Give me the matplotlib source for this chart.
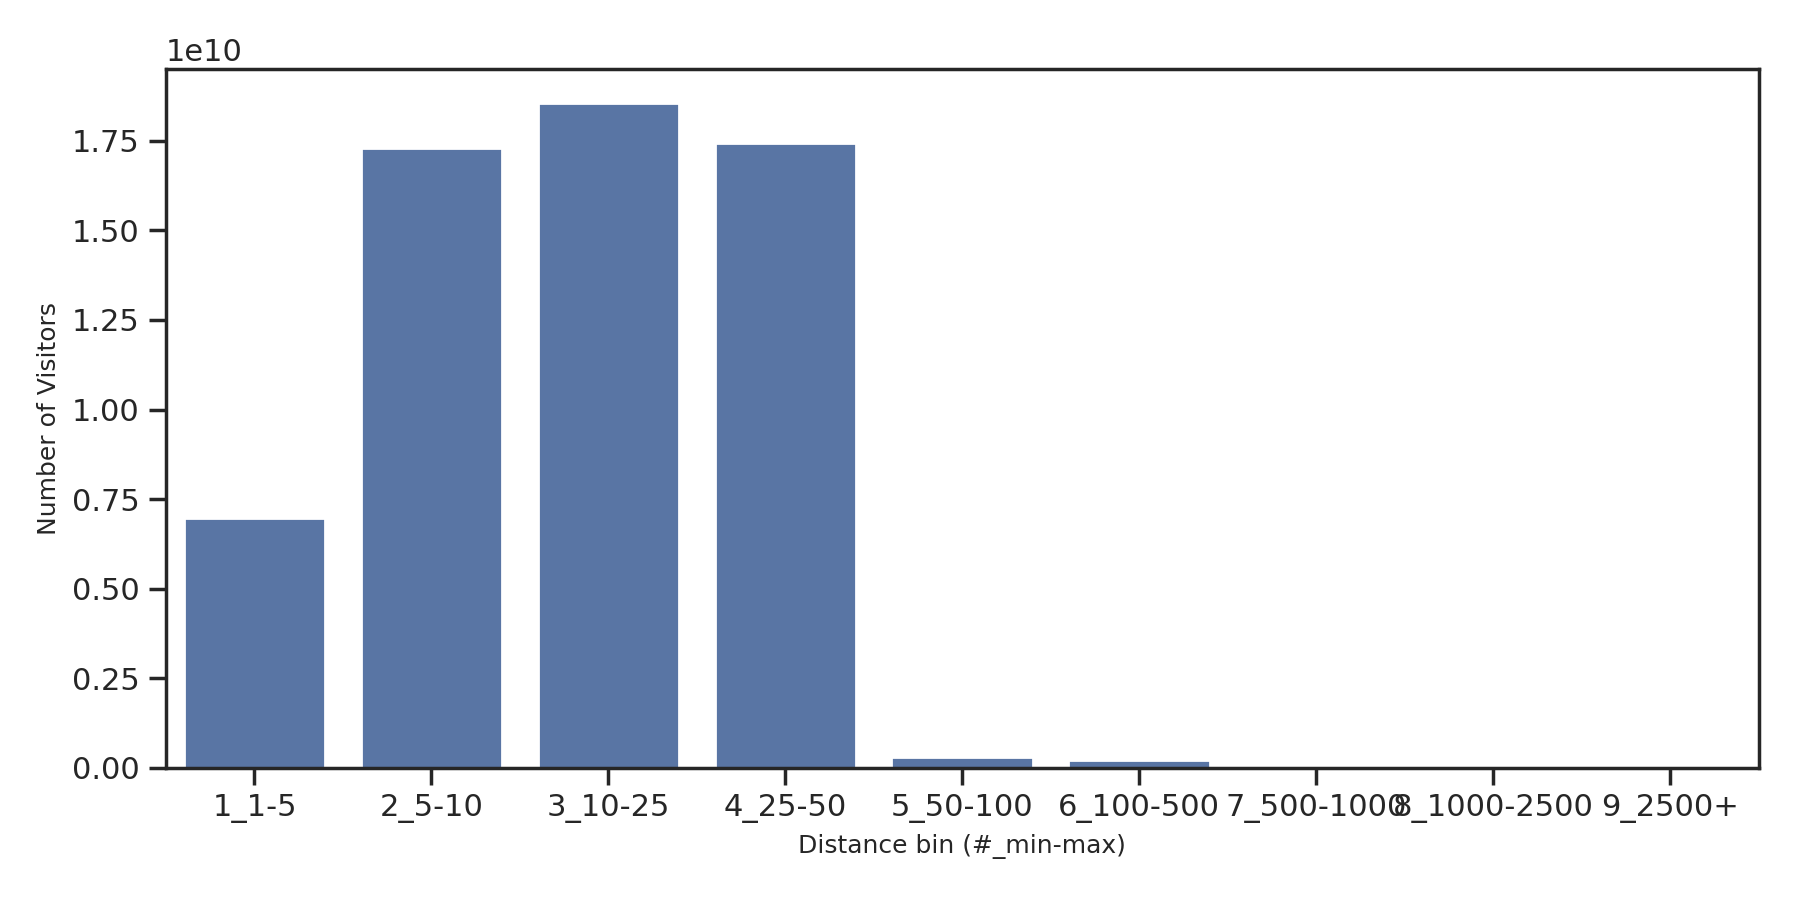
import numpy as np
import matplotlib
matplotlib.use("Agg")
import matplotlib.pyplot as plt
import seaborn as sns

# distance bins and visitor counts
bins = ["1_1-5", "2_5-10", "3_10-25", "4_25-50", "5_50-100",
        "6_100-500", "7_500-1000", "8_1000-2500", "9_2500+"]
visitors = [6.98e9, 1.730e10, 1.857e10, 1.745e10, 2.9e8,
            2.1e8, 2.0e7, 6.0e6, 3.0e6]

sns.set_theme(style="ticks", context="notebook")

fig, ax = plt.subplots(figsize=(9, 4.5), dpi=200)
fig.subplots_adjust(left=0.0922, right=0.977, top=0.923, bottom=0.147)

x = np.arange(len(bins))
ax.bar(x, visitors, width=0.8, color="#5975a4")
ax.set_xticks(x)
ax.set_xticklabels(bins)
ax.set_xlim(-0.5, len(bins) - 0.5)

ax.set_xlabel("Distance bin (#_min-max)", fontsize=9)
ax.set_ylabel("Number of Visitors", fontsize=9)

fig.savefig("out.png", dpi=200)
